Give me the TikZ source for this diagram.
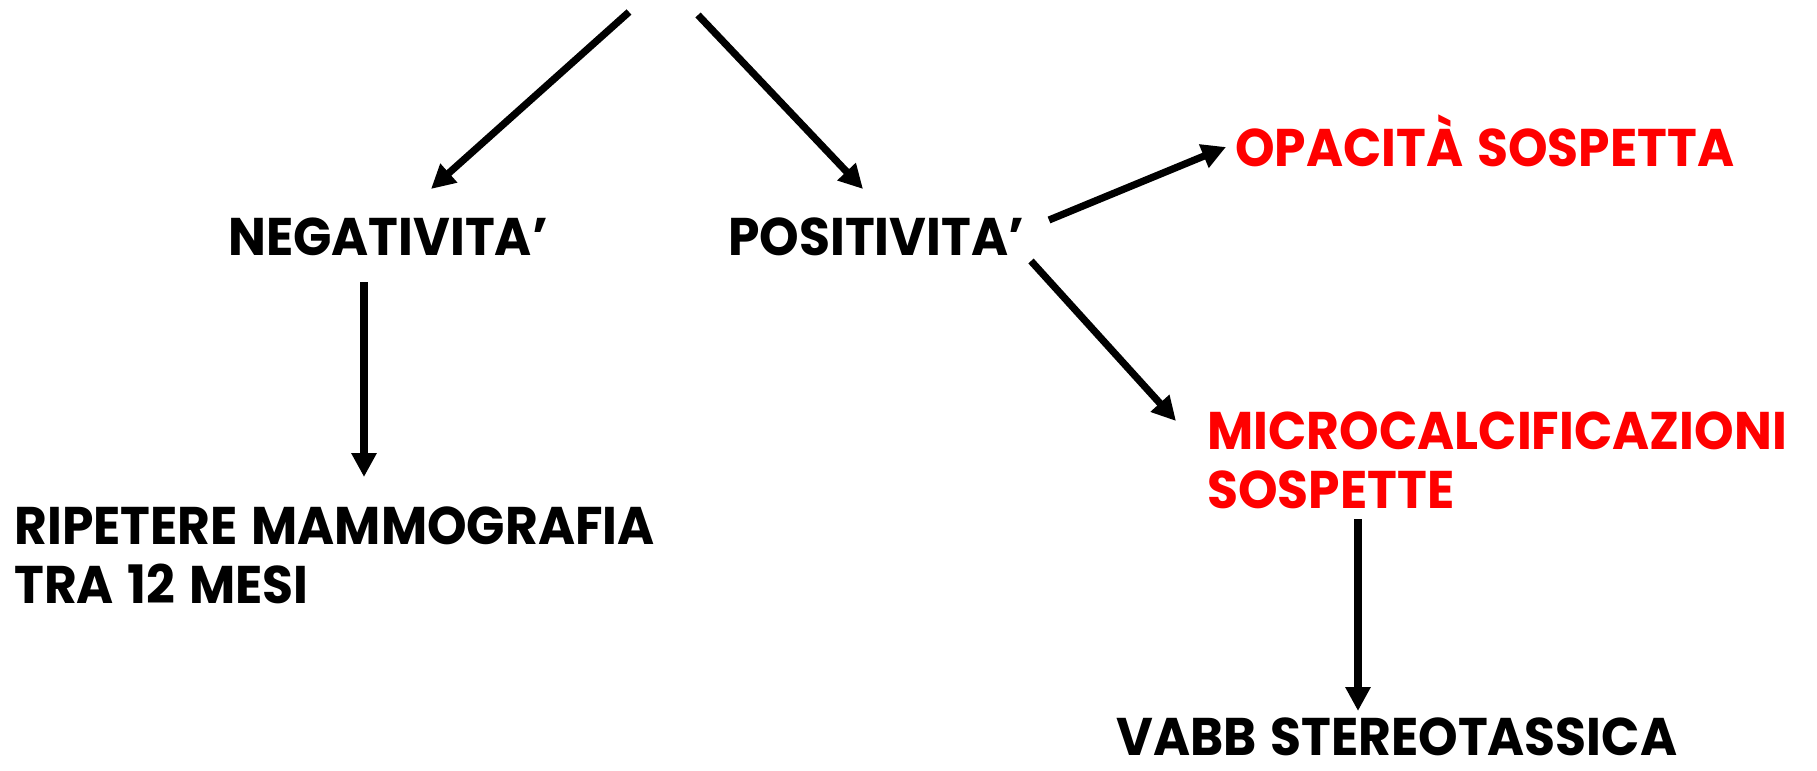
\documentclass[tikz,border=0pt]{standalone}
\usepackage{fontspec}
\usetikzlibrary{arrows.meta}
\newfontfamily\flowfont{Poppins}[FakeStretch=0.95, WordSpace=1.3]
\tikzset{
  lbl/.style={font=\flowfont\bfseries\fontsize{26.5}{29.5}\selectfont, inner sep=0pt, align=left},
  warn/.style={lbl, text=red},
  arr/.style={line width=3.6pt, -{Triangle[length=12pt,width=12pt]}},
}
\begin{document}
\begin{tikzpicture}[x=0.5pt, y=-0.5pt]
  \useasboundingbox (0,0) rectangle (1817,771);

  % labels
  \node[lbl, anchor=base west]  (neg) at (228,255) {NEGATIVITA’};
  \node[lbl, anchor=base west]  (pos) at (728,255) {POSITIVITA’};
  \node[lbl, anchor=north west] (rip) at (14,506) {RIPETERE MAMMOGRAFIA\\TRA 12 MESI};
  \node[warn, anchor=base west] (opa) at (1235,166) {OPACITÀ SOSPETTA};
  \node[warn, anchor=north west] (mic) at (1207,411) {MICROCALCIFICAZIONI\\SOSPETTE};
  \node[lbl, anchor=base west]  (vabb) at (1116,755) {VABB STEREOTASSICA};

  % connector end points
  \coordinate (topL) at (629,12);
  \coordinate (topR) at (698,15);
  \coordinate (negIn) at (431,189);
  \coordinate (posIn) at (863,189);
  \coordinate (negOut) at (364,282);
  \coordinate (ripIn) at (364,477);
  \coordinate (posOutA) at (1049,220);
  \coordinate (opaIn) at (1226,147);
  \coordinate (posOutB) at (1031,261);
  \coordinate (micIn) at (1176,421);
  \coordinate (micOut) at (1358,519);
  \coordinate (vabbIn) at (1358,711);

  % connectors
  \draw[arr] (topL) -- (negIn);
  \draw[arr] (topR) -- (posIn);
  \draw[arr] (negOut) -- (ripIn);
  \draw[arr] (posOutA) -- (opaIn);
  \draw[arr] (posOutB) -- (micIn);
  \draw[arr] (micOut) -- (vabbIn);
\end{tikzpicture}
\end{document}
